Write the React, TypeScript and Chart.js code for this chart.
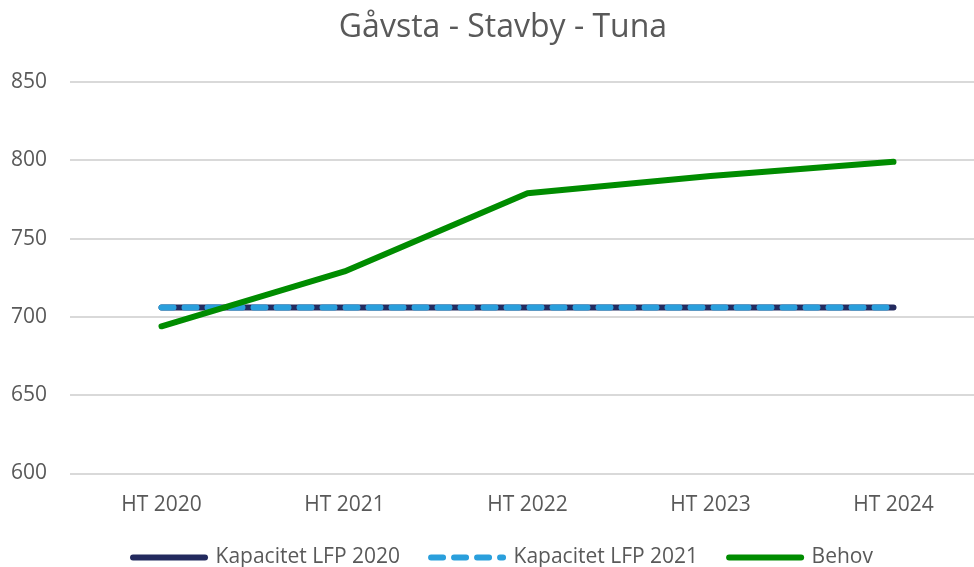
import React, { useEffect, useRef } from "react";
import { Chart, registerables } from "chart.js";

Chart.register(...registerables);

const categories = ["HT 2020", "HT 2021", "HT 2022", "HT 2023", "HT 2024"];
const kapacitet2020 = [706, 706, 706, 706, 706];
const kapacitet2021 = [706, 706, 706, 706, 706];
const behov = [694, 729, 779, 790, 799];
const titleText = "Gåvsta - Stavby - Tuna";

const FONT = "'Open Sans', sans-serif";
const TEXT = "#595959";
const DASH = [12, 11];

export default function App() {
  const ref = useRef<HTMLCanvasElement | null>(null);
  useEffect(() => {
    if (!ref.current) return;
    const chart = new Chart(ref.current, {
      type: "line",
      data: {
        labels: categories,
        datasets: [
          {
            label: "Kapacitet LFP 2020",
            data: kapacitet2020,
            borderColor: "#232A5E",
            backgroundColor: "#232A5E",
            borderWidth: 6,
            borderCapStyle: "round",
            pointRadius: 0,
            tension: 0,
            order: 2,
          },
          {
            label: "Kapacitet LFP 2021",
            data: kapacitet2021,
            borderColor: "#2A9FDC",
            backgroundColor: "#2A9FDC",
            borderWidth: 6,
            borderDash: DASH,
            borderCapStyle: "round",
            pointRadius: 0,
            tension: 0,
            order: 1,
          },
          {
            label: "Behov",
            data: behov,
            borderColor: "#008C00",
            backgroundColor: "#008C00",
            borderWidth: 6,
            borderCapStyle: "round",
            borderJoinStyle: "round",
            pointRadius: 0,
            tension: 0,
            order: 0,
          },
        ],
      },
      options: {
        animation: false,
        responsive: true,
        maintainAspectRatio: false,
        layout: { padding: 0 },
        plugins: {
          title: {
            display: true,
            text: titleText,
            color: TEXT,
            font: { family: FONT, size: 32, weight: "normal", lineHeight: 1.2 },
            padding: { top: 9, bottom: 34.6 },
          },
          tooltip: { enabled: false },
          legend: {
            position: "bottom",
            labels: {
              color: TEXT,
              font: { family: FONT, size: 21 },
              usePointStyle: true,
              pointStyle: "line",
              pointStyleWidth: 72,
              boxWidth: 72,
              boxHeight: 6,
              padding: 31,
              generateLabels: (c: any) => {
                const items = Chart.defaults.plugins.legend.labels.generateLabels(c);
                items.sort((a: any, b: any) => a.datasetIndex - b.datasetIndex);
                items.forEach((it: any) => {
                  const ds = c.data.datasets[it.datasetIndex];
                  it.pointStyle = "line";
                  it.lineCap = "round";
                  it.lineWidth = 6;
                  it.strokeStyle = ds.borderColor;
                  it.lineDash = ds.borderDash || [];
                });
                return items;
              },
            },
          },
        },
        scales: {
          x: {
            offset: true,
            afterFit: (s: any) => {
              s.height = 42.5;
            },
            grid: { display: false, drawTicks: false },
            border: { display: false },
            ticks: { color: TEXT, font: { family: FONT, size: 21, lineHeight: 1.0 }, padding: 21.5 },
          },
          y: {
            position: "left",
            min: 600,
            max: 850,
            afterFit: (s: any) => {
              s.width = 70;
            },
            grid: { color: "#D9D9D9", lineWidth: 2, drawTicks: false },
            border: { display: false },
            ticks: {
              stepSize: 50,
              color: TEXT,
              font: { family: FONT, size: 21 },
              padding: 23,
            },
          },
          yRight: {
            position: "right",
            display: true,
            min: 600,
            max: 850,
            afterFit: (s: any) => {
              s.width = 21;
            },
            grid: { display: false, drawTicks: false },
            border: { display: false },
            ticks: { display: false },
          },
        },
      },
    } as any);
    return () => chart.destroy();
  }, []);
  return (
    <div style={{ position: "fixed", left: 0, top: 0, width: 974, height: 567, overflow: "hidden", background: "#fff" }}>
      <div style={{ position: "relative", width: 1006, height: 578 }}>
        <canvas ref={ref} />
      </div>
    </div>
  );
}
